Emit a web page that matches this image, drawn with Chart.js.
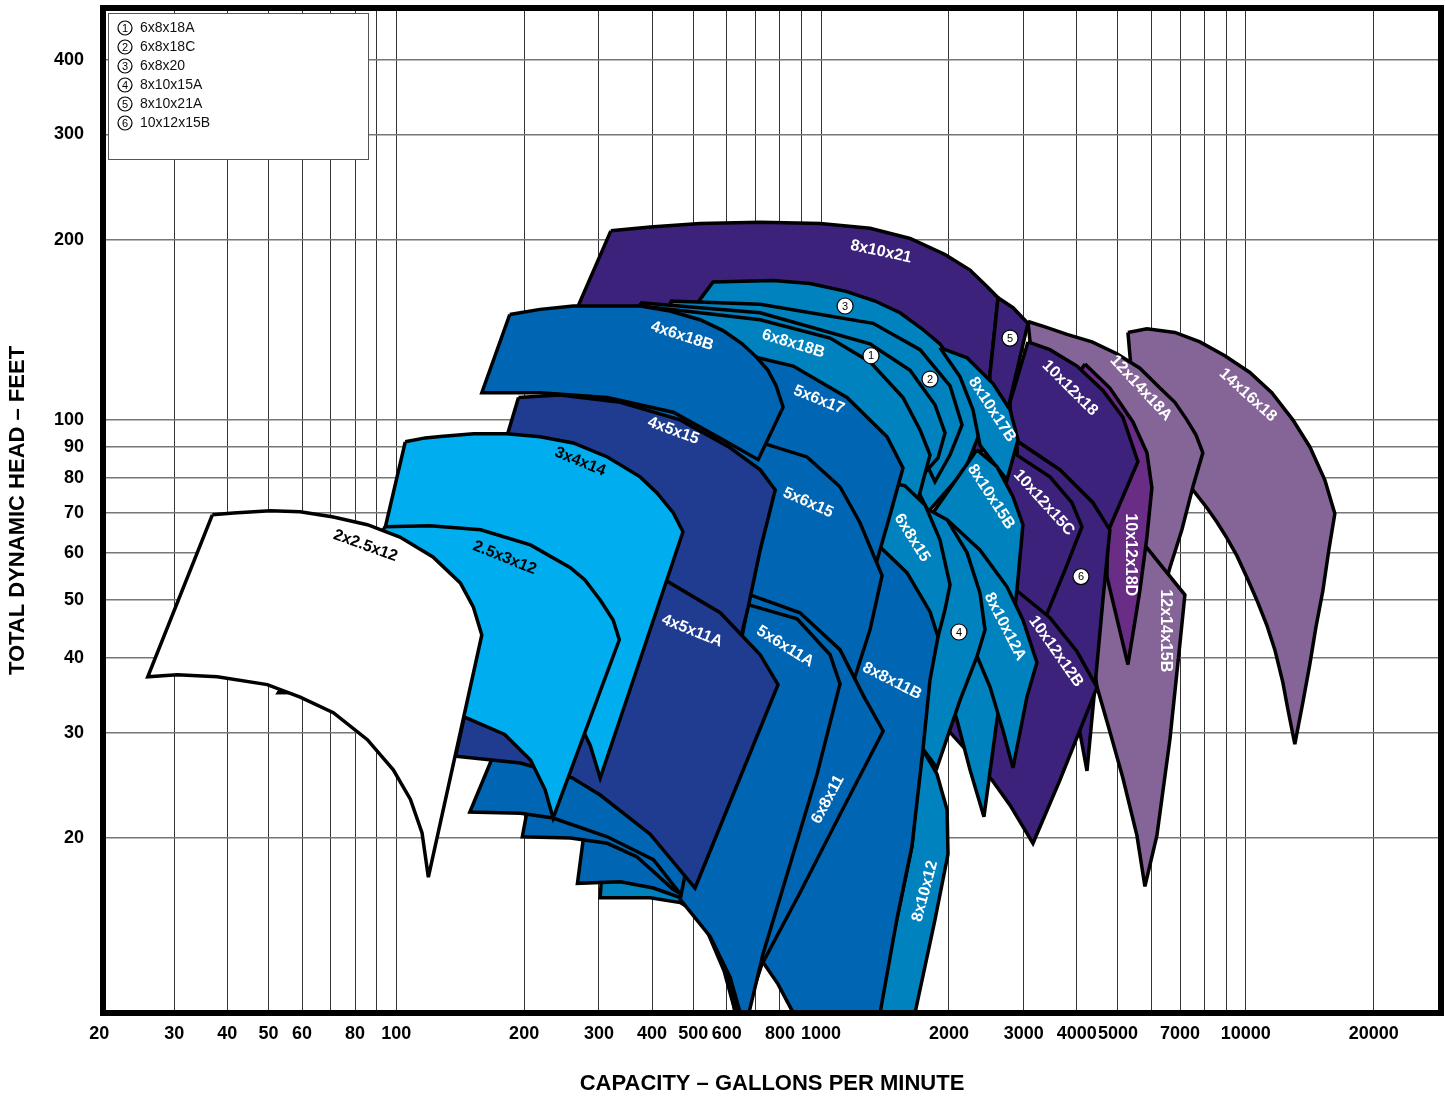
<!DOCTYPE html>
<html>
<head>
<meta charset="utf-8">
<title>Pump coverage chart</title>
<script src="https://cdn.jsdelivr.net/npm/chart.js@4.4.1/dist/chart.umd.min.js"></script>
<style>
  html, body { margin: 0; padding: 0; background: #fff; }
  canvas { display: block; }
</style>
</head>
<body>
<canvas id="chart" width="1445" height="1097"></canvas>
<script>
"use strict";
// outlines as [capacity gpm, total dynamic head ft]
const p8x10x21 = [[320,207],[396,210],[519,213],[719,214],[995,213],[1304,209],[1620,201],[1958,189],[2242,178],[2458,167],[2610,160],[2498,119],[2432,92.6],[2303,82.5],[1805,100],[1377,117],[892,136],[519,150],[264,147],[268,155]];
const p14x16x18 = [[5277,140],[5850,142],[6807,140],[7795,135],[8924,128],[10220,120],[11510,111],[12900,100],[14150,90.1],[15340,79.4],[16200,69.7],[15680,60.6],[15180,51.8],[14610,44.9],[14150,39.1],[13620,33.7],[13040,28.7],[12560,32.8],[12220,36.4],[11700,41.3],[11200,45.4],[10610,50.0],[10060,54.5],[9524,59.3],[9020,63.5],[8546,67.5],[8095,71.3],[7505,76.4],[6277,80.9],[5630,82.5]];
const p12x14x18A = [[3069,146],[3367,143],[3792,139],[4343,135],[4972,129],[5630,122],[6277,113],[6807,107],[7264,100],[7629,94.4],[7921,88.1],[7505,77.3],[7070,65.5],[6624,56.6],[5945,42.9],[5050,54.0],[4068,65.5],[3275,82.5],[3102,108],[3102,136]];
const p12x14x15B = [[4658,69.4],[5723,62.3],[7186,51.0],[6994,42.2],[6624,29.2],[6175,20.2],[5786,16.6],[5540,20.2],[5135,25.2],[4786,30.1],[4462,35.8],[4296,42.9],[4343,58.3]];
const p10x12x18D = [[4181,124],[4786,113],[5422,99.2],[5850,88.1],[6009,77.0],[5850,63.7],[5630,51.8],[5277,39.0],[4709,54.7],[4734,65.0],[4535,82.5],[3960,117]];
const p10x12x18 = [[3069,135],[3457,131],[4004,123],[4608,112],[5135,101],[5571,85.1],[4734,65.0],[4365,72.7],[3650,82.5],[2938,91.5],[2814,92.6],[2785,107]];
const p8x10x21A = [[2610,160],[2830,154],[3069,145],[2785,108],[2637,92.6],[2471,92.6],[2498,119]];
const p10x12x15B = [[2892,92.2],[3650,82.5],[4365,72.7],[4786,65.5],[4608,50.0],[4413,35.8],[4227,25.9],[4004,31.9],[3650,36.8],[3275,42.9],[2938,58.3]];
const p10x12x15C = [[2814,88.4],[3457,80.3],[3896,72.7],[4113,66.3],[3751,56.1],[3402,47.4],[3188,42.9],[2785,50.0],[2637,58.3],[2637,79.4]];
const p10x12x12B = [[2498,58.3],[2892,51.8],[3457,46.7],[4004,41.0],[4462,35.7],[4068,30.3],[3650,25.0],[3154,19.6],[2785,22.7],[2526,25.0],[2242,27.6],[1990,30.3],[2242,42.9]];
const p6x8x20 = [[519,159],[557,170],[771,171],[942,169],[1145,164],[1340,158],[1534,151],[1729,142],[1905,134],[2182,117],[2432,100],[2182,82.5],[1786,70.2],[1637,80.0],[1377,108],[801,136],[492,147]];
const p6x8x18C = [[441,158],[719,156],[1326,145],[1710,131],[2012,114],[2147,98.1],[2012,87.4],[1854,78.8],[1664,92.6],[1377,108],[801,131],[466,141]];
const p6x8x18A = [[375,157],[719,151],[1304,134],[1620,121],[1854,106],[1958,95.1],[1885,86.4],[1710,80.0],[1534,92.6],[1235,108],[719,131],[396,141]];
const p8x10x17B = [[1905,132],[2206,127],[2540,115],[2785,104],[2908,92.6],[2740,79.4],[2567,84.1],[2366,90.8],[2278,104],[2124,118]];
const p8x10x15B = [[2328,89.1],[2595,83.5],[2830,74.4],[2987,66.8],[2892,52.0],[2785,41.3],[2595,31.5],[2418,21.7],[2242,26.0],[2089,31.5],[1958,36.8],[1854,50.0],[1780,66.0],[1854,70.7]];
const p8x10x12A = [[1980,68.1],[2366,60.6],[2740,52.6],[2987,46.3],[3222,39.3],[3052,34.4],[2830,26.2],[2680,30.3],[2498,35.8],[2242,42.9],[1905,65.5]];
const p8x10x12 = [[1710,28.6],[1874,25.6],[1980,22.3],[1990,18.8],[1854,14.6],[1664,10.2],[1620,9.2],[1304,9.2],[1510,14.7],[1637,19.4],[1691,25.0]];
const p8x10x15A = [[1710,72.1],[1980,68.1],[2206,60.0],[2366,51.4],[2432,44.6],[2328,40.2],[2124,34.0],[1874,26.2],[1729,28.3],[1664,34.0],[1637,46.3],[1620,63.0]];
const p6x8x18B = [[375,155],[519,151],[719,147],[1050,137],[1304,125],[1559,109],[1710,96.2],[1805,87.4],[1691,73.5],[1454,50.0],[892,19.1],[645,9.57],[591,12.0],[519,14.9],[466,15.6],[396,15.9],[302,15.9]];
const p6x8x15 = [[1415,78.8],[1576,77.6],[1757,72.1],[1905,63.0],[2012,53.0],[1958,48.2],[1885,43.4],[1710,39.7],[1377,50.0],[1318,58.3],[1362,68.1]];
const p8x8x11B = [[1304,63.0],[1362,61.8],[1594,55.5],[1805,47.8],[1885,43.4],[1805,36.8],[1738,28.2],[1637,19.4],[1510,14.7],[1377,10.2],[1340,9.2],[892,9.2],[860,10.2],[792,11.4],[730,12.4],[892,20.6],[1108,36.8]];
const p5x6x17 = [[396,141],[519,137],[711,127],[860,123],[1151,109],[1430,93.7],[1559,83.1],[1454,69.4],[1355,58.3],[1235,42.9],[892,23.2],[719,14.0],[638,9.57],[598,12.3],[511,15.1],[466,15.9],[403,16.5],[337,16.9],[267,16.8]];
const p5x6x15 = [[302,98.1],[466,95.5],[645,92.6],[726,91.5],[927,86.7],[1108,77.3],[1235,67.3],[1392,54.9],[1304,44.6],[1202,37.2],[942,21.5],[738,14.0],[652,9.57],[594,12.5],[519,15.5],[449,16.4],[369,18.6],[314,19.6],[257,20.0],[198,20.1]];
const p6x8x11 = [[243,51.0],[396,53.4],[548,52.0],[692,50.8],[892,47.6],[1108,41.3],[1255,34.7],[1400,30.2],[1108,21.9],[892,16.2],[730,12.4],[579,13.8],[484,15.6],[403,18.4],[314,20.1],[234,21.6],[196,22.0],[149,22.1]];
const p5x6x11A = [[673,49.1],[878,46.5],[1050,40.5],[1108,36.2],[979,25.6],[846,18.1],[730,12.8],[662,9.57],[611,11.7],[548,13.7],[466,15.8],[519,23.2],[611,34.0]];
const p4x5x15 = [[194,109],[243,110],[337,107],[466,100],[611,89.8],[719,82.5],[780,76.4],[719,60.6],[673,48.5],[628,39.7],[492,46.3],[337,52.0],[218,56.1],[149,58.3]];
const p4x5x11A = [[166,50.0],[243,55.7],[337,56.6],[437,53.6],[579,47.6],[719,40.5],[792,36.1],[505,16.5],[396,20.3],[302,23.6],[260,25.2],[196,26.7],[138,27.4]];
const p4x6x18B = [[185,150],[218,153],[261,155],[319,155],[375,155],[441,152],[519,147],[588,141],[652,134],[707,127],[750,121],[784,114],[814,105],[711,85.8],[588,92.6],[449,103],[314,109],[218,111],[159,111]];
const p3x4x14 = [[105,91.9],[117,93.3],[127,93.8],[152,94.8],[182,94.8],[218,93.7],[261,91.5],[314,86.7],[375,80.3],[411,75.5],[449,69.9],[473,65.0],[418,50.0],[355,35.4],[302,25.2],[286,28.6],[264,32.1],[237,35.4],[196,41.3],[134,46.3],[85.9,50.0]];
const p2_5x3x12 = [[94.2,66.3],[120,66.5],[158,65.5],[207,61.8],[257,56.6],[278,54.0],[302,50.0],[324,46.3],[335,42.9],[234,21.6],[224,24.1],[207,27.0],[180,29.8],[144,31.9],[114,34.0],[77.9,35.1],[52.8,35.0]];
const p2x2_5x12 = [[36.9,69.4],[41.4,69.9],[50.5,70.5],[59.4,70.2],[71.1,68.8],[85.5,66.8],[102,63.7],[122,59.0],[141.5,53.4],[151.8,48.7],[159,43.7],[119,17.2],[115,20.4],[108,23.2],[98.4,26.0],[85.5,29.2],[71.1,32.4],[59.4,34.4],[49.7,36.1],[37.9,37.2],[30.5,37.5],[26.0,37.2]];

// axis ticks
const xGrid = [20,30,40,50,60,70,80,90,100,200,300,400,500,600,700,800,900,1000,2000,3000,4000,5000,6000,7000,8000,9000,10000,20000];
const xLabeled = [20,30,40,50,60,80,100,200,300,400,500,600,800,1000,2000,3000,4000,5000,7000,10000,20000];
const yGrid = [20,30,40,50,60,70,80,90,100,200,300,400];

// in-area names
const labelNames = ["2x2.5x12","2.5x3x12","3x4x14","4x6x18B","4x5x15","6x8x18B","5x6x17","5x6x15","8x10x21","4x5x11A","5x6x11A","6x8x11","8x8x11B","8x10x12","6x8x15","8x10x17B","8x10x15B","8x10x12A","10x12x18","10x12x15C","10x12x12B","10x12x18D","12x14x18A","12x14x15B","14x16x18"];
const labelGpm = [84.6,180,271,471,449,860,989,932,1384,497,823,1038,1469,1757,1637,2526,2512,2710,3853,3347,3572,5335,5660,6482,10110];
const labelFt = [61.6,58.8,85.1,138,95.9,134,108,72.7,191,44.4,41.8,23.2,36.6,16.3,63.5,104,74.4,45.1,113,72.7,41.0,59.5,113,44.4,110];

// numbered models
const legendKeys = ["6x8x18A","6x8x18C","6x8x20","8x10x15A","8x10x21A","10x12x15B"];
const markerGpm = [1311,1805,1139,2112,2785,4091];
const markerFt = [128,117,155,44.2,137,54.7];

const tones = {
    white: "#ffffff",
    sky: "#00aeef",
    navy: "#1f3c91",
    blue: "#0066b3",
    teal: "#0082bf",
    purple: "#3c227a",
    violet: "#6a2d86",
    mauve: "#856597"
};
const labelTilt = [20,22,22,18,20,17,22,24,12,22,32,-62,27,-75,58,57,57,63,45,48,55,90,47,90,42];
const labelInk = labelNames.map((n, i) => i < 3 ? "#000" : "#fff");

// back to front
const stack = [
    ["8x10x21", p8x10x21, "purple"],
    ["14x16x18", p14x16x18, "mauve"],
    ["12x14x18A", p12x14x18A, "mauve"],
    ["12x14x15B", p12x14x15B, "mauve"],
    ["10x12x18D", p10x12x18D, "violet"],
    ["10x12x18", p10x12x18, "purple"],
    ["8x10x21A", p8x10x21A, "purple"],
    ["10x12x15B", p10x12x15B, "purple"],
    ["10x12x15C", p10x12x15C, "purple"],
    ["10x12x12B", p10x12x12B, "purple"],
    ["6x8x20", p6x8x20, "teal"],
    ["6x8x18C", p6x8x18C, "teal"],
    ["6x8x18A", p6x8x18A, "teal"],
    ["8x10x17B", p8x10x17B, "teal"],
    ["8x10x15B", p8x10x15B, "teal"],
    ["8x10x12A", p8x10x12A, "teal"],
    ["8x10x12", p8x10x12, "teal"],
    ["8x10x15A", p8x10x15A, "teal"],
    ["6x8x18B", p6x8x18B, "teal"],
    ["6x8x15", p6x8x15, "teal"],
    ["8x8x11B", p8x8x11B, "blue"],
    ["5x6x17", p5x6x17, "blue"],
    ["5x6x15", p5x6x15, "blue"],
    ["6x8x11", p6x8x11, "blue"],
    ["5x6x11A", p5x6x11A, "blue"],
    ["4x5x15", p4x5x15, "navy"],
    ["4x5x11A", p4x5x11A, "navy"],
    ["4x6x18B", p4x6x18B, "blue"],
    ["3x4x14", p3x4x14, "sky"],
    ["2.5x3x12", p2_5x3x12, "sky"],
    ["2x2.5x12", p2x2_5x12, "white"]
];

const FONT = "'Liberation Sans', Arial, sans-serif";

function ring(pts) {
    return pts.concat([pts[0]]).map(([x, y]) => ({ x: x, y: y }));
}

function badge(ctx, x, y, r, text, size) {
    ctx.beginPath();
    ctx.arc(x, y, r, 0, Math.PI * 2);
    ctx.fillStyle = "#fff";
    ctx.fill();
    ctx.lineWidth = 1.2;
    ctx.strokeStyle = "#000";
    ctx.stroke();
    ctx.fillStyle = "#000";
    ctx.font = size + "px " + FONT;
    ctx.textAlign = "center";
    ctx.textBaseline = "middle";
    ctx.fillText(text, x, y + 0.5);
}

const sheetDecor = {
    id: "sheetDecor",
    beforeDatasetsDraw(chart) {
        const { ctx, chartArea: area } = chart;
        ctx.miterLimit = 4;
        ctx.save();
        const bx = area.left + 5.5, by = area.top + 5.5;
        ctx.fillStyle = "#fff";
        ctx.strokeStyle = "#555";
        ctx.lineWidth = 1;
        ctx.fillRect(bx, by, 260, 146);
        ctx.strokeRect(bx, by, 260, 146);
        legendKeys.forEach((name, i) => {
            const cy = by + 14.5 + i * 19;
            badge(ctx, bx + 16.5, cy, 7, String(i + 1), 11);
            ctx.fillStyle = "#111";
            ctx.font = "14px " + FONT;
            ctx.textAlign = "left";
            ctx.textBaseline = "middle";
            ctx.fillText(name, bx + 31.5, cy + 0.5);
        });
        ctx.restore();
    },
    afterDatasetsDraw(chart) {
        const { ctx, chartArea: area, scales } = chart;
        ctx.save();
        ctx.font = "bold 16px " + FONT;
        ctx.textAlign = "center";
        ctx.textBaseline = "middle";
        labelNames.forEach((t, i) => {
            const px = scales.x.getPixelForValue(labelGpm[i]);
            const py = scales.y.getPixelForValue(labelFt[i]);
            ctx.save();
            ctx.translate(px, py);
            ctx.rotate(labelTilt[i] * Math.PI / 180);
            ctx.fillStyle = labelInk[i];
            ctx.fillText(t, 0, 0);
            ctx.restore();
        });
        markerGpm.forEach((g, i) => {
            badge(ctx, scales.x.getPixelForValue(g), scales.y.getPixelForValue(markerFt[i]), 8, String(i + 1), 11);
        });
        // heavy frame
        ctx.lineWidth = 6;
        ctx.strokeStyle = "#000";
        ctx.strokeRect(area.left, area.top, area.right - area.left, area.bottom - area.top);
        ctx.restore();
    }
};

const chart = new Chart(document.getElementById("chart"), {
    type: "line",
    data: {
        datasets: stack.slice().reverse().map(([name, pts, tone]) => ({
            label: name,
            data: ring(pts),
            backgroundColor: tones[tone],
            borderColor: "#000",
            borderWidth: 3.5,
            borderJoinStyle: "miter",
            fill: "shape",
            pointRadius: 0,
            tension: 0
        }))
    },
    options: {
        responsive: false,
        devicePixelRatio: 1,
        animation: false,
        layout: { padding: { top: 8, right: 4, left: 0, bottom: 0 } },
        plugins: {
            legend: { display: false },
            tooltip: { enabled: false }
        },
        scales: {
            x: {
                type: "logarithmic",
                min: 20.4,
                max: 28800,
                afterBuildTicks: (scale) => { scale.ticks = xGrid.map(v => ({ value: v })); },
                afterFit: (scale) => {
                    scale.height = 84;
                    scale.paddingLeft = 0;
                    scale.paddingRight = 0;
                },
                border: { display: false },
                grid: {
                    drawTicks: false,
                    lineWidth: 1,
                    color: (c) => (c.tick && c.tick.value < 21) ? "rgba(0,0,0,0)" : "#333"
                },
                ticks: {
                    autoSkip: false,
                    maxRotation: 0,
                    padding: 10,
                    color: "#000",
                    font: { family: FONT, size: 18, weight: "bold" },
                    callback: (v) => xLabeled.includes(v) ? String(v) : ""
                },
                title: {
                    display: true,
                    text: "CAPACITY \u2013 GALLONS PER MINUTE",
                    color: "#000",
                    font: { family: FONT, size: 22, weight: "bold" },
                    padding: { top: 0, bottom: 0 }
                }
            },
            y: {
                type: "logarithmic",
                min: 10.2,
                max: 488,
                afterBuildTicks: (scale) => { scale.ticks = yGrid.map(v => ({ value: v })); },
                afterFit: (scale) => {
                    scale.width = 103;
                    scale.paddingTop = 0;
                    scale.paddingBottom = 0;
                },
                border: { display: false },
                grid: { drawTicks: false, lineWidth: 1.5, color: "#777" },
                ticks: {
                    padding: 19,
                    color: "#000",
                    font: { family: FONT, size: 18, weight: "bold" },
                    callback: (v) => String(v)
                },
                title: {
                    display: true,
                    text: "TOTAL DYNAMIC HEAD \u2013 FEET",
                    color: "#000",
                    font: { family: FONT, size: 22, weight: "bold" },
                    padding: { top: 5, bottom: 0 }
                }
            }
        }
    },
    plugins: [sheetDecor]
});
</script>
</body>
</html>
